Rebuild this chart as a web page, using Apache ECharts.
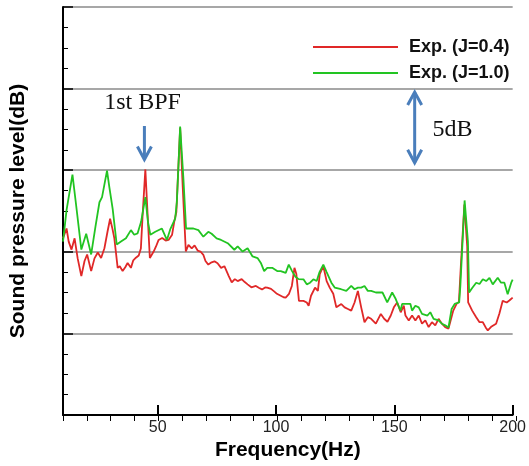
<!DOCTYPE html>
<html><head><meta charset="utf-8">
<script src="https://cdn.jsdelivr.net/npm/echarts@6/dist/echarts.min.js"></script>
<style>html,body{margin:0;padding:0;background:#fff}#c{width:529px;height:466px}</style>
</head><body><div id="c"></div>
<script>
const xTickLabels = [50, 100, 150, 200];
const seriesNames = ['Exp. (J=0.4)', 'Exp. (J=1.0)'];

const freqRed = [10.0,11.5,12.4,13.6,14.9,16.2,17.75,19.1,20.2,21.9,23.3,24.7,26.1,27.5,28.8,29.9,30.9,31.7,33.1,34.0,35.2,36.3,37.3,38.7,39.7,40.8,42.0,42.9,43.6,44.8,45.7,46.7,48.3,49.3,50.4,51.9,53.4,54.6,56.1,57.0,57.9,59.5,60.6,61.9,63.0,64.4,65.6,66.9,68.1,69.3,70.2,71.4,72.8,74.0,75.3,76.8,78.2,80.0,81.3,82.6,83.8,85.5,86.8,88.0,89.6,91.5,92.9,94.1,95.4,96.3,97.9,99.2,100.4,102.0,103.2,104.1,105.5,106.7,107.8,108.6,109.7,111.6,113.0,113.8,114.8,116.5,117.7,118.5,120.0,121.4,122.7,124.2,125.5,127.6,129.0,130.4,131.8,133.2,134.6,136.0,137.4,138.8,140.2,142.2,144.3,145.7,147.1,148.5,149.8,151.2,152.7,154.0,154.7,156.1,157.5,158.9,160.3,161.7,163.1,164.5,165.9,167.3,168.7,170.1,171.5,172.9,174.9,176.3,177.3,178.1,179.6,180.8,181.2,182.9,184.6,186.0,187.4,188.6,189.5,191.1,193.0,194.4,195.8,197.5,198.6,200.0];
const splRed = [10.83,11.43,10.63,10.14,10.83,9.60,8.51,9.44,9.84,8.82,9.60,9.96,9.62,10.22,11.23,12.03,11.41,10.83,9.02,9.12,8.82,9.06,9.32,9.02,9.48,9.64,9.78,10.2,12.14,15.05,12.44,9.62,10.02,10.33,10.73,10.85,10.69,10.73,11.05,11.84,12.44,17.6,13.95,10.02,10.43,10.21,10.39,10.08,10.02,9.82,9.44,9.22,9.36,9.42,9.30,9.02,9.12,8.53,8.13,8.33,8.21,8.33,8.15,8.01,7.83,7.91,7.79,7.70,7.82,7.81,7.73,7.58,7.43,7.31,7.22,7.20,7.43,7.91,9.02,8.64,7.00,7.00,6.90,6.70,7.31,7.81,7.61,8.64,9.12,8.21,7.81,7.43,6.60,6.80,6.60,6.50,6.40,6.90,7.61,6.60,5.69,6.00,5.90,5.60,6.20,5.90,5.72,6.10,6.60,6.90,6.30,6.70,6.10,5.80,6.10,5.80,6.10,5.60,5.80,5.39,5.69,5.50,5.90,5.60,5.39,5.30,6.40,6.81,6.94,9.12,12.9,10.33,6.90,6.40,6.00,5.69,5.69,5.37,5.19,5.43,5.60,6.22,7.00,6.90,7.02,7.20];

const freqGreen = [10.0,11.5,14.0,15.4,17.75,19.8,21.9,23.7,25.4,26.5,28.6,29.6,31.0,32.7,34.5,36.6,38.7,40.1,41.5,43.0,44.8,45.9,46.9,49.0,51.8,53.9,55.4,57.4,58.1,59.5,60.9,62.0,65.1,67.2,69.3,71.4,72.8,74.9,76.8,79.6,82.4,83.8,85.9,88.0,90.1,92.2,93.6,95.0,96.3,98.4,100.5,102.0,104.1,105.4,106.8,108.2,109.6,111.6,113.0,114.4,115.8,117.2,118.4,120.0,121.4,123.4,124.8,127.5,129.7,131.8,133.2,134.6,136.0,137.4,138.8,140.2,142.2,145.0,147.0,149.1,150.6,152.6,153.3,155.6,156.8,157.5,158.9,160.3,161.7,164.0,165.2,166.6,168.7,170.1,171.5,172.9,174.2,175.5,177.4,177.9,179.7,181.1,181.6,182.9,184.6,186.0,187.4,188.8,190.2,191.6,193.7,195.1,196.5,197.9,199.4,200.0];
const splGreen = [10.63,12.56,14.73,13.04,10.14,11.11,9.84,11.53,13.04,13.35,14.98,13.95,12.62,10.45,10.63,10.83,11.33,11.05,11.13,11.84,13.35,11.84,11.05,11.23,11.43,10.73,11.41,12.03,13.04,17.68,14.43,11.43,11.43,11.33,10.93,11.23,11.11,10.83,10.73,10.53,10.13,10.33,10.02,10.22,9.72,9.62,9.32,8.82,9.02,9.02,8.82,8.82,8.71,9.22,8.82,8.48,8.33,8.32,8.01,8.11,8.32,8.21,8.76,9.22,8.76,8.11,7.81,7.71,7.61,7.91,7.71,7.81,7.81,7.91,7.61,7.61,7.51,7.51,6.90,7.51,7.11,6.40,6.81,6.81,6.81,6.40,6.70,6.60,6.20,6.10,6.30,5.90,5.80,5.60,5.50,5.37,6.50,6.81,6.90,7.91,13.15,10.63,7.51,7.79,8.11,8.03,8.32,8.21,8.41,8.01,8.41,8.11,8.11,7.41,8.11,8.30];

const FONT = '"Liberation Sans", Arial, sans-serif';
const SERIF = '"Liberation Serif", "Times New Roman", serif';
const BLUE = '#4a7ebb';

const chart = echarts.init(document.getElementById('c'), null, {renderer: 'canvas'});
const gridBox = {left: 63, right: 13, top: 7, bottom: 45};

const option = {
  animation: false,
  backgroundColor: '#fff',
  grid: [Object.assign({}, gridBox), Object.assign({}, gridBox)],
  legend: {
    orient: 'vertical', left: 308, top: 33,
    itemWidth: 85, itemHeight: 14, itemGap: 8,
    icon: 'path://M0,0 L100,0 L100,2.2 L0,2.2 Z',
    symbolKeepAspect: true,
    textStyle: {fontFamily: FONT, fontWeight: 'bold', fontSize: 18, color: '#111', padding: [0, 0, 0, 6]},
    data: seriesNames
  },
  xAxis: [
    {gridIndex: 0, type: 'value', min: 10, max: 200, interval: 10,
     axisLine: {lineStyle: {color: '#000', width: 2}},
     axisTick: {inside: true, length: 10, customValues: xTickLabels, lineStyle: {color: '#000', width: 2}},
     axisLabel: {customValues: xTickLabels, color: '#222', fontSize: 16, fontFamily: FONT, margin: 4},
     splitLine: {show: false},
     name: 'Frequency(Hz)', nameLocation: 'middle', nameGap: 17,
     nameTextStyle: {fontWeight: 'bold', fontSize: 21, fontFamily: FONT, color: '#000'}},
    {gridIndex: 1, type: 'value', min: 10, max: 200, interval: 10,
     axisLine: {show: false},
     axisTick: {inside: true, length: 5, lineStyle: {color: '#000', width: 1}},
     axisLabel: {show: false}, splitLine: {show: false}}
  ],
  yAxis: [
    {gridIndex: 0, type: 'value', min: 0, max: 25, interval: 5,
     axisLine: {show: true, lineStyle: {color: '#000', width: 2}},
     axisTick: {show: true, inside: true, length: 10, lineStyle: {color: '#000', width: 1.5}},
     minorTick: {show: true, splitNumber: 4, length: 5, lineStyle: {color: '#000', width: 1}},
     axisLabel: {show: false},
     splitLine: {show: true, lineStyle: {color: '#8a8a8a', width: 1.5}},
     name: 'Sound pressure level(dB)', nameLocation: 'middle', nameGap: 34,
     nameTextStyle: {fontWeight: 'bold', fontSize: 21, fontFamily: FONT, color: '#000'}},
    {gridIndex: 1, type: 'value', min: 0, max: 25, show: false}
  ],
  series: [
    {name: seriesNames[0], type: 'line', xAxisIndex: 0, yAxisIndex: 0, symbol: 'none', showSymbol: false,
     lineStyle: {color: '#e02828', width: 1.8}, itemStyle: {color: '#e02828'},
     data: freqRed.map((f, i) => [f, splRed[i]])},
    {name: seriesNames[1], type: 'line', xAxisIndex: 0, yAxisIndex: 0, symbol: 'none', showSymbol: false,
     lineStyle: {color: '#22c422', width: 1.8}, itemStyle: {color: '#22c422'},
     data: freqGreen.map((f, i) => [f, splGreen[i]])}
  ]
};
chart.setOption(option);

function px(hz, db) { return chart.convertToPixel({xAxisIndex: 0, yAxisIndex: 0}, [hz, db]); }
function arrowShapes(hz, dbTop, dbBottom, headTop, headBottom) {
  const a = px(hz, dbTop), b = px(hz, dbBottom);
  const out = [{type: 'polyline', shape: {points: [a, b]}, style: {stroke: BLUE, lineWidth: 3, fill: null}, z: 100}];
  const hw = 7, hl = 13;
  if (headBottom) out.push({type: 'polyline', shape: {points: [[b[0] - hw, b[1] - hl], b, [b[0] + hw, b[1] - hl]]}, style: {stroke: BLUE, lineWidth: 3, fill: null, lineJoin: 'miter'}, z: 100});
  if (headTop) out.push({type: 'polyline', shape: {points: [[a[0] - hw, a[1] + hl], a, [a[0] + hw, a[1] + hl]]}, style: {stroke: BLUE, lineWidth: 3, fill: null, lineJoin: 'miter'}, z: 100});
  return out;
}
const bpfPos = px(43.6, 19.14);
const dbPos = px(174.6, 17.51);
const graphics = []
  .concat(arrowShapes(44.4, 17.71, 15.66, false, true))
  .concat(arrowShapes(158.6, 19.79, 15.46, true, true))
  .concat([
    {type: 'text', x: bpfPos[0], y: bpfPos[1], style: {text: '1st BPF', font: '24px ' + SERIF, fill: '#111', textAlign: 'center', textVerticalAlign: 'middle'}, z: 100},
    {type: 'text', x: dbPos[0], y: dbPos[1], style: {text: '5dB', font: '24px ' + SERIF, fill: '#111', textAlign: 'center', textVerticalAlign: 'middle'}, z: 100}
  ]);
chart.setOption({graphic: graphics});
</script></body></html>
